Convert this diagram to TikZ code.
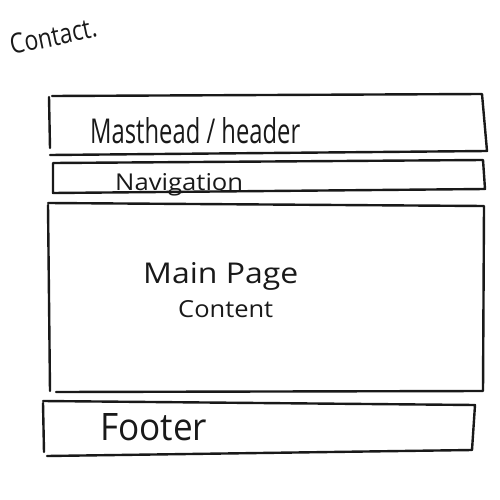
\documentclass[tikz,border=0pt]{standalone}
\usepackage{fontspec}
\setmainfont{Open Sans}
\usepackage{graphicx}
\tikzset{
  sketch/.style={draw=black!90, line width=2.4pt, line join=round, line cap=round},
  hand/.style={inner sep=0pt, text=black!90, anchor=base west},
}
\begin{document}
\begin{tikzpicture}[x=1pt,y=-1pt]
\useasboundingbox (0,0) rectangle (500,500);
\fill[white] (0,0) rectangle (500,500);
% Contact label
\node[hand, rotate=12] (contact) at (12,55) {\resizebox{88pt}{20pt}{Contact.}};
% Masthead
\draw[sketch] (50,148) -- (49,97) (52,96) -- (482,94) -- (487,151) -- (50,155);
\node[hand] (mast) at (90,143) {\resizebox{210pt}{26pt}{Masthead / header}};
% Navigation
\draw[sketch] (53,163) -- (483,160) -- (485,189) -- (53,193) -- cycle;
\node[hand] (nav) at (115,190) {\resizebox{128pt}{17pt}{Navigation}};
% Main content
\draw[sketch] (48,203) -- (484,206) -- (483,391) (483,391) -- (56,392) (50,391) -- (48,205);
\node[hand] (main) at (143,283) {\resizebox{155pt}{21pt}{Main Page}};
\node[hand] (content) at (178,317) {\resizebox{95pt}{17pt}{Content}};
% Footer
\draw[sketch] (43,401) -- (475,405) -- (472,450) -- (47,456) (44,452) -- (43,403);
\node[hand] (footer) at (100,440) {\resizebox{107pt}{27pt}{Footer}};
\end{tikzpicture}
\end{document}
